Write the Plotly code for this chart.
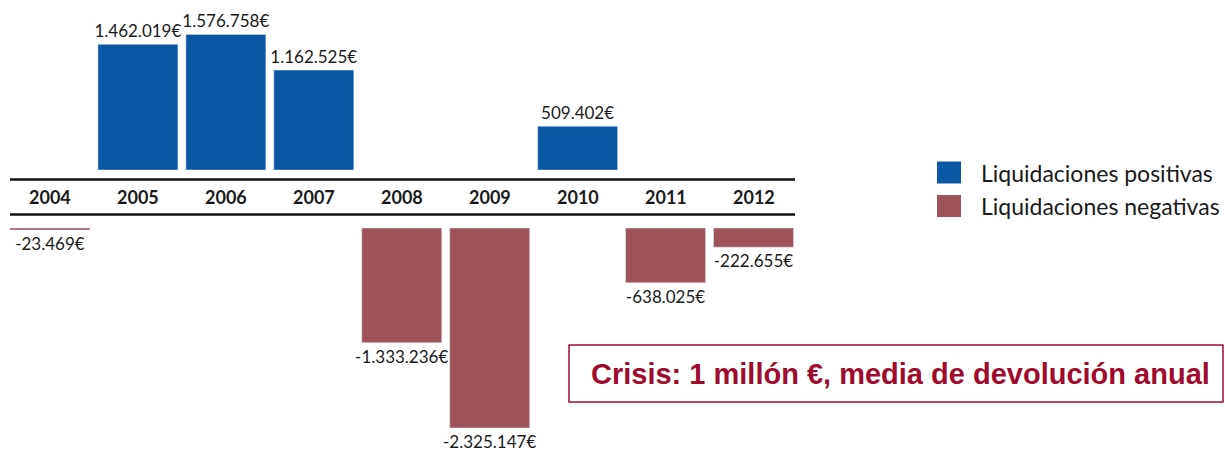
import plotly.graph_objects as go

years = ["2004", "2005", "2006", "2007", "2008", "2009", "2010", "2011", "2012"]
positivas = [None, 1462019, 1576758, 1162525, None, None, 509402, None, None]
negativas = [-23469, None, None, None, -1333236, -2325147, None, -638025, -222655]
serie_pos = "Liquidaciones positivas"
serie_neg = "Liquidaciones negativas"
nota = "Crisis: 1 millón €, media de devolución anual"

BLUE = "#0a58a3"
RED = "#a0525a"
W, H = 1225, 450
PX_PER_UNIT = 86.0 / 1e6


def fmt(v):
    if v is None:
        return ""
    s = f"{abs(v):,}".replace(",", ".") + "€"
    return ("-" if v < 0 else "") + s


def py(p):
    return 1 - p / H


def pxx(p):
    return p / W


fig = go.Figure()
font_lbl = dict(family="Lato, 'Open Sans', sans-serif", size=17, color="#1a1a1a")

fig.add_trace(go.Bar(
    x=years, y=positivas, name=serie_pos, marker_color=BLUE, width=0.91,
    text=[fmt(v) for v in positivas], textposition="outside", textfont=font_lbl,
    textangle=0, constraintext="none",
    cliponaxis=False, xaxis="x", yaxis="y", showlegend=False,
))
fig.add_trace(go.Bar(
    x=years, y=negativas, name=serie_neg, marker_color=RED, width=0.91,
    text=[fmt(v) for v in negativas], textposition="outside", textfont=font_lbl,
    textangle=0, constraintext="none",
    cliponaxis=False, xaxis="x2", yaxis="y2", showlegend=False,
))

left_i = -50 / 87.94
right_i = (W - 50) / 87.94
ax_common = dict(type="category", range=[left_i, right_i], showgrid=False, zeroline=False,
                 showline=False, showticklabels=False, ticks="")
top_zero = 170
bot_zero = 228

fig.update_layout(
    width=W, height=H, margin=dict(l=0, r=0, t=0, b=0, pad=0),
    paper_bgcolor="white", plot_bgcolor="rgba(0,0,0,0)",
    xaxis=dict(**ax_common, domain=[0, 1], anchor="y"),
    xaxis2=dict(**ax_common, domain=[0, 1], anchor="y2"),
    yaxis=dict(domain=[py(top_zero), 1], range=[0, top_zero / PX_PER_UNIT], showgrid=False,
               zeroline=False, showticklabels=False, ticks=""),
    yaxis2=dict(domain=[0, py(bot_zero)], range=[-(H - bot_zero) / PX_PER_UNIT, 0], showgrid=False,
                zeroline=False, showticklabels=False, ticks=""),
    barmode="overlay",
)

# band lines
for yp in (179.5, 214.5):
    fig.add_shape(type="line", xref="paper", yref="paper", x0=pxx(10), x1=pxx(795),
                  y0=py(yp), y1=py(yp), line=dict(color="#111111", width=2.5))

# year labels (category index positions on the shared category axis)
for i, yr in enumerate(years):
    fig.add_annotation(x=i, xref="x", y=py(197), yref="paper", text=f"<b>{yr}</b>",
                       showarrow=False, font=dict(family="Lato, sans-serif", size=18, color="#1a1a1a"),
                       xanchor="center", yanchor="middle")

# legend
for i, (name, col) in enumerate([(serie_pos, BLUE), (serie_neg, RED)]):
    yc = 172.5 + i * 33.5
    fig.add_shape(type="rect", xref="paper", yref="paper", x0=pxx(937), x1=pxx(961),
                  y0=py(yc - 11), y1=py(yc + 11), fillcolor=col, line=dict(width=0))
    fig.add_annotation(x=pxx(979), xref="paper", y=py(yc), yref="paper", text=name,
                       showarrow=False, xanchor="left", yanchor="middle",
                       font=dict(family="Lato, sans-serif", size=23, color="#1a1a1a"))

# note box
fig.add_shape(type="rect", xref="paper", yref="paper", x0=pxx(569), x1=pxx(1223),
              y0=py(402), y1=py(345), line=dict(color="#9e1030", width=1.5), fillcolor="white")
fig.add_annotation(x=pxx(900), xref="paper", y=py(374), yref="paper", text=f"<b>{nota}</b>",
                   showarrow=False, xanchor="center", yanchor="middle",
                   font=dict(family="Arial, 'Liberation Sans', sans-serif", size=29, color="#9e0b2e"))

fig.write_html("out.html", config={"displayModeBar": False},
               post_script="document.body.style.margin='0';document.body.style.overflow='hidden';")
